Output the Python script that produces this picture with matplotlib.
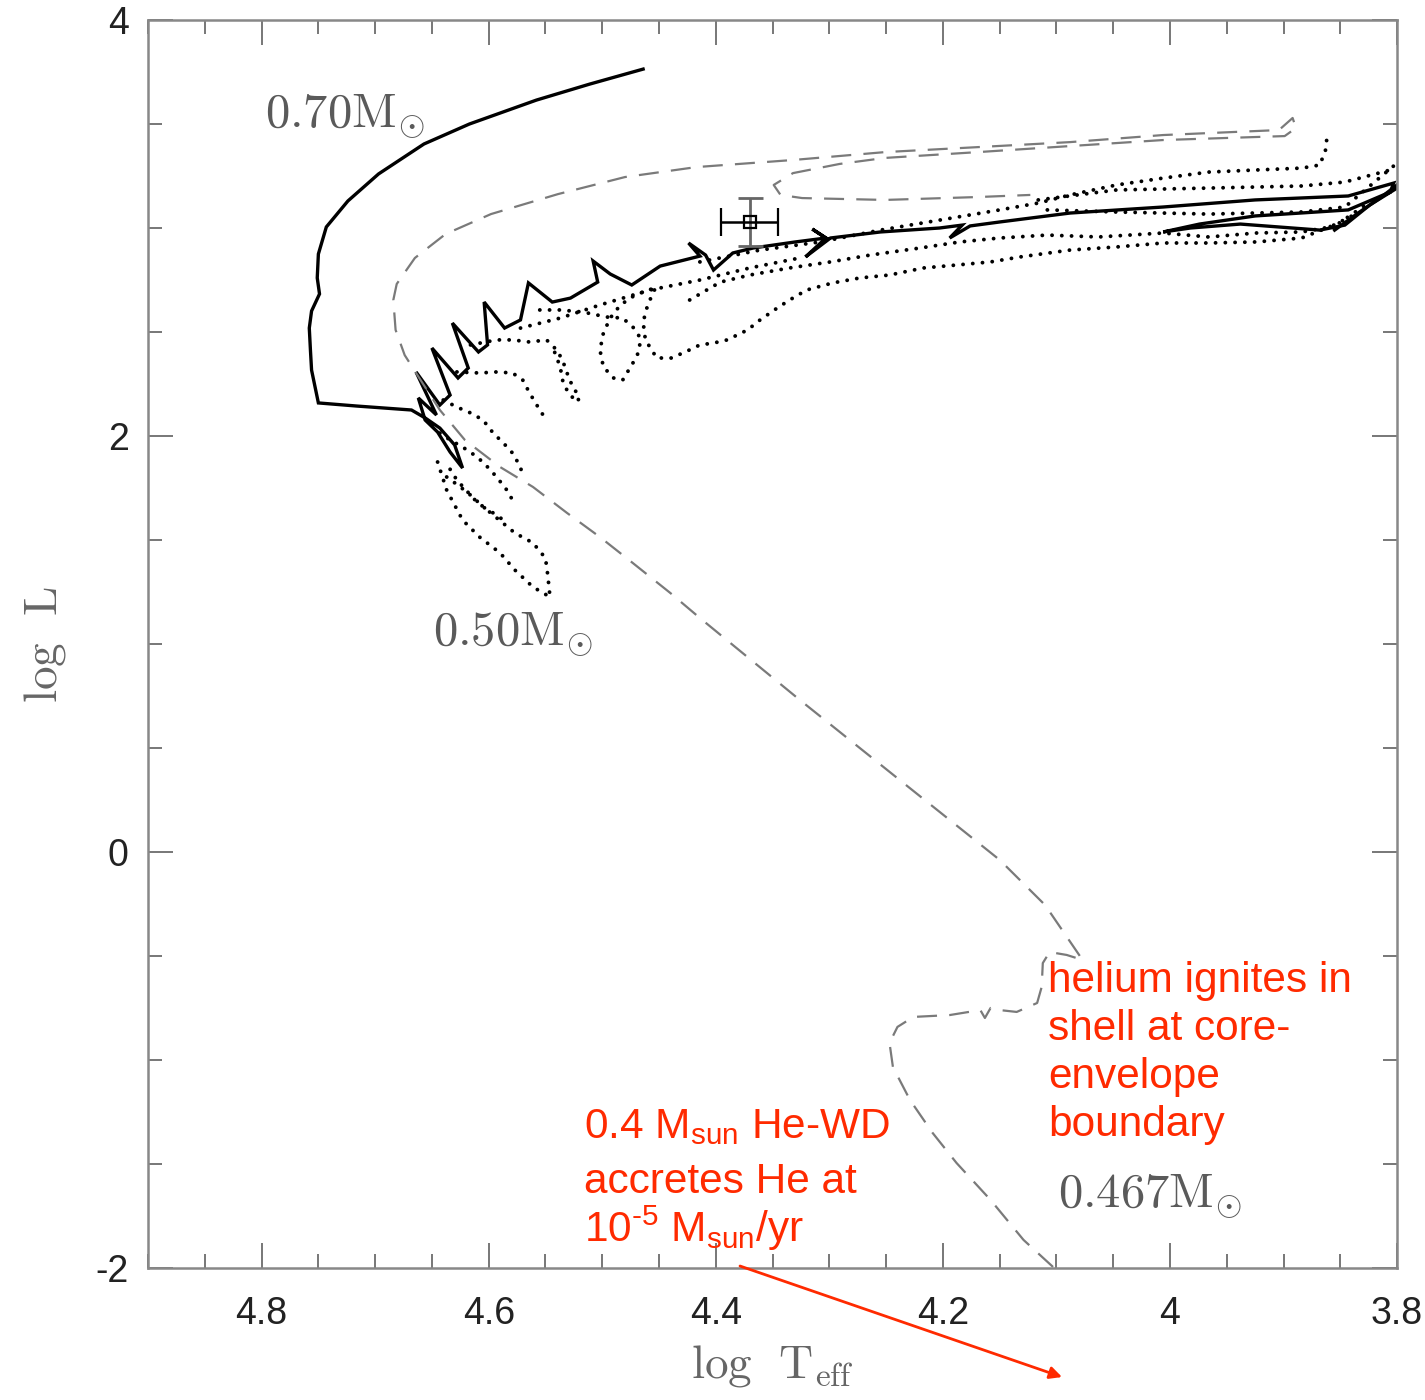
import matplotlib.pyplot as plt
from matplotlib.ticker import MultipleLocator

plt.rcParams['font.family'] = ['Liberation Sans', 'DejaVu Sans']
plt.rcParams['mathtext.fontset'] = 'custom'
plt.rcParams['mathtext.rm'] = 'Liberation Sans'
plt.rcParams['mathtext.it'] = 'Liberation Sans:italic'
plt.rcParams['axes.unicode_minus'] = False

# ---- evolutionary tracks (log Teff, log L) ----
# 0.70 Msun post-AGB track, continuing into the shell-flash sawtooth
m070_logt = [4.464, 4.511, 4.558, 4.617, 4.657, 4.697, 4.724, 4.743, 4.750, 4.751,
             4.749, 4.756, 4.758, 4.757, 4.756, 4.750, 4.716, 4.668, 4.656,
             4.643, 4.630, 4.623, 4.634, 4.645, 4.656,
             4.662, 4.646, 4.664, 4.643, 4.634, 4.650, 4.627, 4.618, 4.632, 4.609,
             4.601, 4.604, 4.586, 4.572, 4.565, 4.544, 4.528, 4.504, 4.508, 4.493,
             4.474, 4.449, 4.414, 4.424, 4.409, 4.402, 4.385, 4.367, 4.330, 4.303,
             4.315, 4.303, 4.321, 4.299, 4.255, 4.203, 4.183, 4.194, 4.176, 4.150,
             4.088, 4.006, 3.925, 3.843, 3.803,
             3.806, 3.843, 3.885, 3.925, 3.974, 4.006, 3.982, 3.938, 3.868, 3.846,
             3.824, 3.800]
m070_logl = [3.764, 3.692, 3.615, 3.500, 3.404, 3.260, 3.130, 3.005, 2.875, 2.760,
             2.683, 2.601, 2.519, 2.413, 2.317, 2.159, 2.144, 2.125, 2.087,
             2.038, 1.957, 1.846, 1.923, 2.019, 2.077,
             2.183, 2.101, 2.308, 2.149, 2.197, 2.423, 2.279, 2.327, 2.543, 2.404,
             2.438, 2.644, 2.519, 2.558, 2.736, 2.644, 2.663, 2.740, 2.841, 2.779,
             2.726, 2.817, 2.865, 2.928, 2.870, 2.798, 2.880, 2.904, 2.933, 2.952,
             2.995, 2.952, 2.861, 2.952, 2.981, 3.000, 3.014, 2.952, 3.010, 3.029,
             3.072, 3.101, 3.135, 3.154, 3.216,
             3.173, 3.087, 3.072, 3.058, 3.019, 2.981, 3.000, 3.019, 2.990, 3.014,
             3.111, 3.192]
m070_tail_logt = [3.855, 3.833, 3.815, 3.800]
m070_tail_logl = [2.990, 3.077, 3.144, 3.207]

# 0.467 Msun accreting He white dwarf
m0467_logt = [4.103, 4.129, 4.158, 4.188, 4.209, 4.229, 4.244, 4.247, 4.240, 4.226,
              4.194, 4.167, 4.163, 4.158, 4.150, 4.135, 4.117, 4.113, 4.112, 4.106,
              4.091, 4.077, 4.095, 4.110, 4.150, 4.238, 4.326, 4.414, 4.440, 4.473,
              4.502, 4.531, 4.561, 4.590, 4.621, 4.643, 4.660, 4.674, 4.682, 4.684,
              4.681, 4.665, 4.638, 4.598, 4.539, 4.480, 4.417, 4.332, 4.251, 4.169,
              4.088, 4.006, 3.904, 3.892, 3.889, 3.899, 4.006, 4.088, 4.169, 4.251,
              4.291, 4.332, 4.349, 4.343, 4.324, 4.251, 4.169, 4.123]
m0467_logl = [-1.995, -1.865, -1.673, -1.495, -1.351, -1.192, -1.034, -0.918, -0.841, -0.793,
              -0.784, -0.760, -0.798, -0.750, -0.760, -0.769, -0.726, -0.649, -0.534, -0.481,
              -0.495, -0.519, -0.375, -0.255, -0.038, 0.346, 0.731, 1.125, 1.245, 1.389,
              1.514, 1.630, 1.755, 1.851, 1.981, 2.125, 2.269, 2.389, 2.510, 2.654,
              2.731, 2.856, 2.971, 3.067, 3.163, 3.245, 3.293, 3.327, 3.365, 3.389,
              3.413, 3.447, 3.471, 3.529, 3.481, 3.442, 3.423, 3.394, 3.365, 3.337,
              3.308, 3.264, 3.207, 3.159, 3.144, 3.135, 3.149, 3.159]

# 0.50 Msun track: dotted loops and branches
m050_a_logt = [4.645, 4.637, 4.623, 4.608, 4.590, 4.577, 4.561, 4.546, 4.548, 4.550,
               4.561, 4.577, 4.594, 4.612, 4.628, 4.638]
m050_a_logl = [1.875, 1.740, 1.596, 1.514, 1.438, 1.356, 1.274, 1.226, 1.332, 1.413,
               1.486, 1.534, 1.611, 1.692, 1.788, 1.875]
m050_b_logt = [4.643, 4.634, 4.623, 4.610, 4.601, 4.593, 4.584, 4.579]
m050_b_logl = [2.014, 1.981, 1.947, 1.899, 1.851, 1.803, 1.740, 1.692]
m050_c_logt = [4.640, 4.628, 4.616, 4.605, 4.596, 4.587, 4.579, 4.572, 4.570]
m050_c_logl = [2.173, 2.139, 2.111, 2.077, 2.014, 1.966, 1.918, 1.851, 1.803]
m050_d_logt = [4.628, 4.608, 4.593, 4.579, 4.570, 4.564, 4.555, 4.548]
m050_d_logl = [2.308, 2.303, 2.308, 2.303, 2.269, 2.207, 2.125, 2.067]
m050_e_logt = [4.616, 4.593, 4.579, 4.564, 4.549, 4.540, 4.535, 4.531, 4.526, 4.520,
               4.522, 4.530, 4.535, 4.537, 4.542]
m050_e_logl = [2.438, 2.462, 2.462, 2.452, 2.462, 2.413, 2.365, 2.303, 2.236, 2.188,
               2.163, 2.207, 2.269, 2.332, 2.404]
m050_f_logt = [4.555, 4.537, 4.517, 4.496, 4.482, 4.473, 4.467, 4.467, 4.473, 4.482,
               4.490, 4.499, 4.502, 4.499, 4.493, 4.484, 4.471, 4.454]
m050_f_logl = [2.606, 2.606, 2.596, 2.572, 2.567, 2.524, 2.476, 2.413, 2.351, 2.269,
               2.279, 2.332, 2.413, 2.495, 2.567, 2.630, 2.678, 2.712]
m050_g_logt = [4.454, 4.460, 4.464, 4.462, 4.452, 4.439, 4.425, 4.414, 4.402, 4.390,
               4.372, 4.361, 4.346, 4.335, 4.320, 4.297, 4.273, 4.247, 4.217, 4.188,
               4.158, 4.132, 4.088, 4.047, 4.006, 3.966, 3.924, 3.884, 3.851, 3.824]
m050_g_logl = [2.702, 2.630, 2.548, 2.462, 2.375, 2.375, 2.409, 2.438, 2.447, 2.462,
               2.510, 2.558, 2.615, 2.654, 2.702, 2.736, 2.760, 2.774, 2.808, 2.822,
               2.837, 2.861, 2.894, 2.909, 2.928, 2.928, 2.933, 2.952, 3.024, 3.125]
m050_h_logt = [4.423, 4.396, 4.370, 4.335, 4.299, 4.264, 4.220, 4.185, 4.150, 4.108,
               4.063, 4.006, 3.966, 3.924, 3.884, 3.859, 3.833]
m050_h_logl = [2.654, 2.740, 2.774, 2.808, 2.837, 2.870, 2.904, 2.933, 2.952, 2.966,
               2.957, 2.976, 2.957, 2.976, 2.981, 3.005, 3.077]
m050_i_logt = [4.414, 4.361, 4.308, 4.255, 4.203, 4.150, 4.116, 4.088, 4.047, 4.006,
               3.966, 3.924, 3.884, 3.868, 3.863, 3.862]
m050_i_logl = [2.837, 2.894, 2.933, 2.990, 3.038, 3.087, 3.120, 3.159, 3.207, 3.240,
               3.269, 3.279, 3.288, 3.303, 3.375, 3.423]
m050_j_logt = [4.116, 4.047, 3.966, 3.884, 3.846, 3.806]
m050_j_logl = [3.135, 3.183, 3.192, 3.202, 3.221, 3.279]
m050_k_logt = [4.108, 4.047, 3.966, 3.884, 3.846, 3.802]
m050_k_logl = [3.087, 3.077, 3.067, 3.077, 3.101, 3.303]
m050_l_logt = [4.572, 4.537, 4.502, 4.458, 4.414, 4.370, 4.326]
m050_l_logl = [2.519, 2.567, 2.630, 2.702, 2.750, 2.808, 2.856]
m050_m_logt = [4.637, 4.625, 4.614, 4.605, 4.596, 4.587]
m050_m_logl = [1.803, 1.755, 1.707, 1.659, 1.630, 1.596]

# observed star with error bars
star_logt, star_logl = 4.370, 3.029
star_err_t, star_err_l = 0.025, 0.115

# axis ticks
x_ticks = [4.8, 4.6, 4.4, 4.2, 4.0, 3.8]
x_tick_labels = ['4.8', '4.6', '4.4', '4.2', '4', '3.8']
y_ticks = [-2, 0, 2, 4]
y_tick_labels = ['-2', '0', '2', '4']

# track mass labels: (text, logT, logL)
mass_labels = [(r'$\mathrm{0.70M}_{\odot}$', 4.797, 3.486),
               (r'$\mathrm{0.50M}_{\odot}$', 4.649, 0.995),
               (r'$\mathrm{0.467M}_{\odot}$', 4.099, -1.707)]

# red notes
note_right = ['helium ignites in', 'shell at core-', 'envelope', 'boundary']
note_right_logt = 4.107
note_right_logl = [-0.673, -0.904, -1.135, -1.365]
note_left = [r'0.4 M$_{\mathrm{sun}}$ He-WD', 'accretes He at',
             '10$^{\\mathrm{\u20105}}$ M$_{\\mathrm{sun}}$/yr']
note_left_logt = 4.516
note_left_logl = [-1.375, -1.639, -1.875]

RED = '#ff2a00'
GRAY_TEXT = '#5a5a5a'

fig = plt.figure(figsize=(14.25, 14.0), dpi=100)
ax = fig.add_axes([0.1039, 0.0943, 0.8765, 0.8914])

ax.plot(m070_logt, m070_logl, color='black', lw=2.4, solid_joinstyle='miter')
ax.plot(m070_tail_logt, m070_tail_logl, color='black', lw=2.4)

ax.plot(m0467_logt, m0467_logl, color='#7a7a7a', lw=1.6, dashes=(9, 5.5))

dotted = [(m050_a_logt, m050_a_logl), (m050_b_logt, m050_b_logl),
          (m050_c_logt, m050_c_logl), (m050_d_logt, m050_d_logl),
          (m050_e_logt, m050_e_logl), (m050_f_logt, m050_f_logl),
          (m050_g_logt, m050_g_logl), (m050_h_logt, m050_h_logl),
          (m050_i_logt, m050_i_logl), (m050_j_logt, m050_j_logl),
          (m050_k_logt, m050_k_logl), (m050_l_logt, m050_l_logl),
          (m050_m_logt, m050_m_logl)]
for t, l in dotted:
    ax.plot(t, l, color='black', lw=2.8, linestyle=(0, (0.01, 2.5)),
            dash_capstyle='round')

ax.errorbar(star_logt, star_logl, yerr=star_err_l, fmt='none', ecolor='#666666',
            elinewidth=2.0, capsize=9, capthick=2.0)
ax.errorbar(star_logt, star_logl, xerr=star_err_t, fmt='s', ms=9, mfc='none',
            mec='black', mew=1.6, ecolor='black', elinewidth=1.8, capsize=10,
            capthick=1.8)

for txt, t, l in mass_labels:
    ax.text(t, l, txt, fontsize=35, color=GRAY_TEXT, math_fontfamily='cm',
            ha='left', va='baseline')

for txt, l in zip(note_right, note_right_logl):
    ax.text(note_right_logt, l, txt, fontsize=30.5, color=RED, ha='left',
            va='baseline')
for txt, l in zip(note_left, note_left_logl):
    ax.text(note_left_logt, l, txt, fontsize=30.5, color=RED, ha='left',
            va='baseline')

ax.annotate('', xy=(0.7453, 0.0164), xytext=(0.5193, 0.0957),
            xycoords='figure fraction', textcoords='figure fraction',
            arrowprops=dict(arrowstyle='-|>', color=RED, lw=2.0,
                            shrinkA=0, shrinkB=0, mutation_scale=18),
            annotation_clip=False)

ax.set_xlim(4.9, 3.8)
ax.set_ylim(-2, 4)
ax.set_xticks(x_ticks, x_tick_labels)
ax.set_yticks(y_ticks, y_tick_labels)
ax.xaxis.set_minor_locator(MultipleLocator(0.05))
ax.yaxis.set_minor_locator(MultipleLocator(0.5))
ax.tick_params(which='both', direction='in', top=True, right=True,
               color='#777777', width=1.4, labelcolor='#222222')
ax.tick_params(which='major', length=18, labelsize=27)
ax.tick_params(axis='x', which='major', pad=20)
ax.tick_params(axis='y', which='major', pad=14)
ax.tick_params(which='minor', length=10)

for sp in ax.spines.values():
    sp.set_color('#888888')
    sp.set_linewidth(1.8)

ax.set_xlabel(r'$\mathrm{log\ \ T_{eff}}$', fontsize=34, color='#666666',
              math_fontfamily='cm', labelpad=8)
ax.set_ylabel(r'$\mathrm{log\ \ L}$', fontsize=34, color='#666666',
              math_fontfamily='cm', labelpad=20)

fig.savefig('out.png', dpi=100)
